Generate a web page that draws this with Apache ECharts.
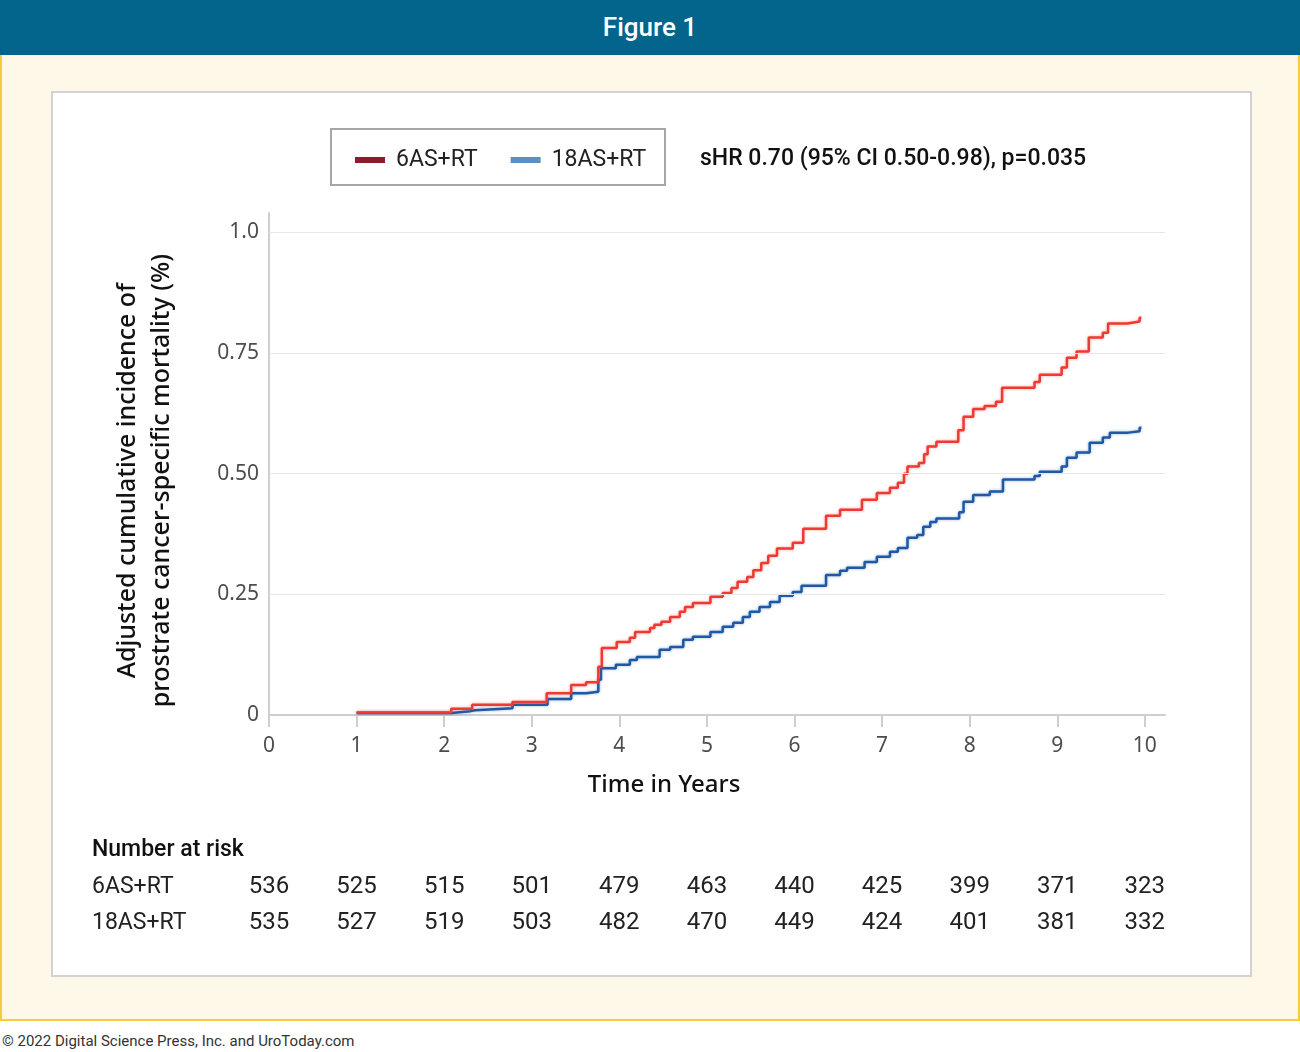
<!DOCTYPE html>
<html>
<head>
<meta charset="utf-8">
<title>Figure 1</title>
<script src="https://cdn.jsdelivr.net/npm/echarts@6/dist/echarts.min.js"></script>
<style>
  html, body { margin: 0; padding: 0; }
  body { width: 1300px; height: 1052px; position: relative; background: #fff; overflow: hidden; font-family: Roboto, "Noto Sans", sans-serif; }
  .header { position: absolute; left: 0; top: 0; width: 1300px; height: 55px; background: #03648c; color: #fff; font-size: 26px; font-weight: 500; text-align: center; line-height: 55px; }
  .frame { position: absolute; left: 0; top: 55px; width: 1296px; height: 964px; background: #fef8e9; border: 2px solid #f8cb3c; border-top: none; }
  .panel { position: absolute; left: 51px; top: 91px; width: 1197px; height: 882px; background: #fff; border: 2px solid #d2d2d2; }
  .footer { position: absolute; left: 2px; top: 1032px; font-size: 15px; line-height: 18px; color: #333; }
  #chart { position: absolute; left: 0; top: 0; width: 1300px; height: 1052px; }
</style>
</head>
<body>
<div class="header">Figure 1</div>
<div class="frame"></div>
<div class="panel"></div>
<div class="footer">© 2022 Digital Science Press, Inc. and UroToday.com</div>
<div id="chart"></div>

<script>
// cumulative incidence (time in years -> level from that time on)
const sixTimes = [1.0, 2.08, 2.32, 2.78, 3.17, 3.45, 3.62, 3.76, 3.8, 3.97, 4.12, 4.18, 4.35, 4.4, 4.48, 4.58, 4.69, 4.75, 4.84, 5.04, 5.18, 5.28, 5.35, 5.46, 5.53, 5.62, 5.7, 5.8, 5.98, 6.1, 6.36, 6.52, 6.77, 6.94, 7.09, 7.18, 7.25, 7.29, 7.42, 7.48, 7.52, 7.62, 7.87, 7.93, 8.04, 8.17, 8.3, 8.37, 8.74, 8.8, 9.05, 9.11, 9.22, 9.36, 9.52, 9.58, 9.8, 9.94, 9.96]
const sixValues = [0.005, 0.013, 0.021, 0.027, 0.045, 0.062, 0.068, 0.1, 0.139, 0.151, 0.16, 0.172, 0.18, 0.187, 0.193, 0.203, 0.214, 0.224, 0.232, 0.245, 0.253, 0.263, 0.276, 0.286, 0.3, 0.315, 0.33, 0.345, 0.357, 0.386, 0.413, 0.425, 0.446, 0.46, 0.471, 0.481, 0.5, 0.515, 0.522, 0.54, 0.556, 0.566, 0.59, 0.618, 0.634, 0.64, 0.649, 0.678, 0.69, 0.705, 0.72, 0.74, 0.753, 0.782, 0.792, 0.811, 0.815, 0.823, 0.823]

const eighteenTimes = [1.0, 2.08, 2.3, 2.35, 2.78, 3.18, 3.45, 3.62, 3.76, 3.79, 3.96, 4.12, 4.2, 4.46, 4.58, 4.73, 4.84, 5.04, 5.18, 5.3, 5.41, 5.49, 5.6, 5.72, 5.83, 5.98, 6.08, 6.36, 6.52, 6.6, 6.8, 6.94, 7.09, 7.18, 7.29, 7.4, 7.47, 7.55, 7.62, 7.88, 7.93, 8.04, 8.23, 8.38, 8.74, 8.8, 9.05, 9.11, 9.22, 9.37, 9.52, 9.6, 9.81, 9.94, 9.96]
const eighteenValues = [0.004, 0.008, 0.01, 0.014, 0.021, 0.033, 0.045, 0.048, 0.073, 0.097, 0.104, 0.114, 0.12, 0.135, 0.141, 0.156, 0.162, 0.172, 0.183, 0.191, 0.203, 0.214, 0.224, 0.234, 0.247, 0.255, 0.268, 0.29, 0.299, 0.305, 0.317, 0.328, 0.338, 0.346, 0.367, 0.373, 0.39, 0.4, 0.407, 0.42, 0.442, 0.456, 0.463, 0.488, 0.495, 0.504, 0.515, 0.533, 0.544, 0.564, 0.575, 0.585, 0.588, 0.595, 0.595]

const xTicks = [0, 1, 2, 3, 4, 5, 6, 7, 8, 9, 10]
const yTicks = [0, 0.25, 0.5, 0.75, 1.0]

// number at risk table
const riskTimes = [0, 1, 2, 3, 4, 5, 6, 7, 8, 9, 10]
const riskSix = [536, 525, 515, 501, 479, 463, 440, 425, 399, 371, 323]
const riskEighteen = [535, 527, 519, 503, 482, 470, 449, 424, 401, 381, 332]

const seriesNames = ['6AS+RT', '18AS+RT']
const annotation = 'sHR 0.70 (95% CI 0.50-0.98), p=0.035'

const pairs = (ts, vs) => ts.map((t, i) => [t, vs[i]])

const chart = echarts.init(document.getElementById('chart'), null, { renderer: 'canvas' })

const axisFont = '"Noto Sans", "Open Sans", sans-serif'
const tableFont = 'Roboto, "Noto Sans", sans-serif'

chart.setOption({
  animation: false,
  backgroundColor: 'transparent',
  grid: {
    left: 269,
    top: 213,
    right: 135,
    bottom: 337
  },
  legend: {
    left: 355,
    top: 148,
    padding: 0,
    icon: 'rect',
    itemWidth: 30,
    itemHeight: 6,
    itemGap: 33,
    textStyle: { fontFamily: tableFont, fontSize: 23, color: '#222', lineHeight: 24, padding: [0, 0, 0, 6] },
    data: [
      { name: seriesNames[0], itemStyle: { color: '#8c1b2b' } },
      { name: seriesNames[1], itemStyle: { color: '#5b8ec2' } }
    ]
  },
  xAxis: {
    type: 'value',
    min: 0,
    max: 10.23,
    axisLine: { lineStyle: { color: '#cfcfcf', width: 2 } },
    axisTick: { show: true, length: 12, customValues: xTicks, lineStyle: { color: '#cfcfcf', width: 2 } },
    axisLabel: { customValues: xTicks, margin: 21, fontFamily: axisFont, fontSize: 21, color: '#4d4d4d' },
    splitLine: { show: false }
  },
  yAxis: {
    type: 'value',
    min: 0,
    max: 1.04,
    axisLine: { show: true, lineStyle: { color: '#cfcfcf', width: 2 } },
    axisTick: { show: false },
    axisLabel: {
      customValues: yTicks,
      margin: 10,
      fontFamily: axisFont,
      fontSize: 21,
      color: '#4d4d4d',
      formatter: v => (v === 0 ? '0' : v === 1 ? '1.0' : v.toFixed(2))
    },
    splitLine: { show: false }
  },
  series: [
    {
      name: seriesNames[0],
      type: 'line',
      step: 'end',
      showSymbol: false,
      color: '#8c1b2b',
      lineStyle: { color: '#ee3a32', width: 2.5, shadowColor: 'rgba(238,58,50,0.45)', shadowBlur: 3 },
      data: pairs(sixTimes, sixValues),
      z: 3,
      markLine: {
        silent: true,
        symbol: 'none',
        label: { show: false },
        lineStyle: { color: '#e6e6e6', width: 1, type: 'solid' },
        data: yTicks.filter(v => v > 0).map(v => ({ yAxis: v }))
      }
    },
    {
      name: seriesNames[1],
      type: 'line',
      step: 'end',
      showSymbol: false,
      color: '#5b8ec2',
      lineStyle: { color: '#1f58a5', width: 2.5, shadowColor: 'rgba(31,88,165,0.45)', shadowBlur: 3 },
      data: pairs(eighteenTimes, eighteenValues),
      z: 2
    }
  ]
})

// legend box, annotation, axis titles and risk table placed from the axis scale
const xPix = t => chart.convertToPixel({ xAxisIndex: 0 }, t)
const yMid = chart.convertToPixel({ yAxisIndex: 0 }, 0.5)

const graphics = [
  {
    type: 'rect',
    shape: { x: 331, y: 129, width: 334, height: 56 },
    style: { fill: 'none', stroke: '#a6a6a6', lineWidth: 2 },
    silent: true
  },
  {
    type: 'text',
    x: 700,
    y: 159,
    style: { text: annotation, fontFamily: tableFont, fontSize: 23, fontWeight: 500, fill: '#111', verticalAlign: 'middle' }
  },
  {
    type: 'text',
    x: 664,
    y: 785,
    style: { text: 'Time in Years', fontFamily: axisFont, fontSize: 24, fontWeight: 500, fill: '#111', align: 'center', verticalAlign: 'middle' }
  },
  {
    type: 'text',
    x: 145,
    y: yMid + 7,
    rotation: Math.PI / 2,
    style: {
      text: 'Adjusted cumulative incidence of\nprostrate cancer-specific mortality (%)',
      fontFamily: axisFont,
      fontSize: 25,
      fontWeight: 500,
      lineHeight: 34,
      fill: '#111',
      align: 'center',
      verticalAlign: 'middle'
    }
  },
  {
    type: 'text',
    x: 92,
    y: 850,
    style: { text: 'Number at risk', fontFamily: tableFont, fontSize: 23, fontWeight: 500, fill: '#111', verticalAlign: 'middle' }
  },
  {
    type: 'text',
    x: 92,
    y: 887,
    style: { text: seriesNames[0], fontFamily: tableFont, fontSize: 23, fill: '#222', verticalAlign: 'middle' }
  },
  {
    type: 'text',
    x: 92,
    y: 923,
    style: { text: seriesNames[1], fontFamily: tableFont, fontSize: 23, fill: '#222', verticalAlign: 'middle' }
  }
]

riskTimes.forEach((t, i) => {
  graphics.push({
    type: 'text',
    x: xPix(t),
    y: 887,
    style: { text: String(riskSix[i]), fontFamily: tableFont, fontSize: 24, fill: '#222', align: 'center', verticalAlign: 'middle' }
  })
  graphics.push({
    type: 'text',
    x: xPix(t),
    y: 923,
    style: { text: String(riskEighteen[i]), fontFamily: tableFont, fontSize: 24, fill: '#222', align: 'center', verticalAlign: 'middle' }
  })
})

chart.setOption({ graphic: graphics })
</script>
</body>
</html>
